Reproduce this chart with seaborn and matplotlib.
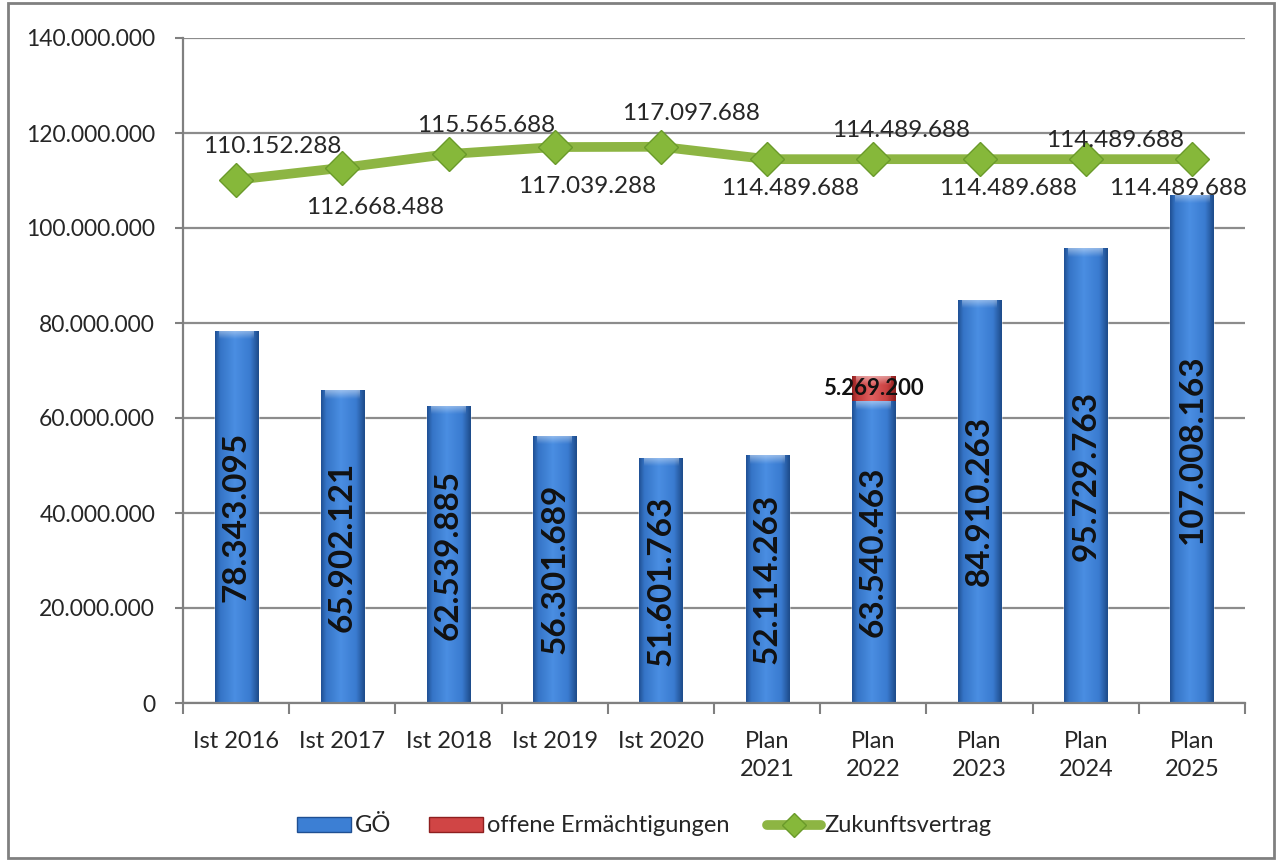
import numpy as np
import pandas as pd
import matplotlib
matplotlib.use("Agg")
import matplotlib.pyplot as plt
from matplotlib.colors import LinearSegmentedColormap
from matplotlib.patches import Patch, Rectangle
from matplotlib.lines import Line2D
import seaborn as sns

# --- data -------------------------------------------------------------
categories = ["Ist 2016", "Ist 2017", "Ist 2018", "Ist 2019", "Ist 2020",
              "Plan\n2021", "Plan\n2022", "Plan\n2023", "Plan\n2024", "Plan\n2025"]
goe = [78343095, 65902121, 62539885, 56301689, 51601763,
       52114263, 63540463, 84910263, 95729763, 107008163]
offene = [0, 0, 0, 0, 0, 0, 5269200, 0, 0, 0]
zukunft = [110152288, 112668488, 115565688, 117039288, 117097688,
           114489688, 114489688, 114489688, 114489688, 114489688]

# label offsets (pixels) for the line's value labels
line_label_offsets = [(36, 33), (33, -40), (38, 29), (32, -39), (30, 33),
                      (23, -29), (28, 29), (29, -29), (29, 19), (-14, -29)]

def fmt(v):
    return f"{v:,.0f}".replace(",", ".")

df = pd.DataFrame({"cat": categories, "goe": goe, "offene": offene,
                   "zukunft": zukunft})
df["total"] = df["goe"] + df["offene"]

sns.set_theme(style="white")
plt.rcParams["font.family"] = ["Lato", "DejaVu Sans"]
TXT = "#262626"

fig = plt.figure(figsize=(12.76, 8.61), dpi=100)
ax = fig.add_axes([183 / 1276, 1 - 703 / 861, (1245 - 183) / 1276, (703 - 38) / 861])

BAR_W = 0.405
sns.barplot(data=df, x="cat", y="total", ax=ax, color="#c0392b",
            width=BAR_W, saturation=1, errorbar=None, zorder=2)
sns.barplot(data=df, x="cat", y="goe", ax=ax, color="#3c7fd4",
            width=BAR_W, saturation=1, errorbar=None, zorder=2)

# cylinder-like horizontal shading on each bar
blue_cmap = LinearSegmentedColormap.from_list(
    "blu", [(0, "#1f4f92"), (0.12, "#3574c6"), (0.45, "#4a8ee2"),
            (0.8, "#3a7bd0"), (1, "#1d4a88")])
red_cmap = LinearSegmentedColormap.from_list(
    "red", [(0, "#8e1f1f"), (0.12, "#c23a3a"), (0.45, "#e06060"),
            (0.8, "#c84040"), (1, "#8a1c1c")])
cap_cmap = LinearSegmentedColormap.from_list("cap", ["#ffffff00", "#ffffff"])
grad = np.linspace(0, 1, 256).reshape(1, -1)
cap_grad = np.linspace(0, 1, 64).reshape(-1, 1)
n = len(categories)
CAP = 1.8e6
for i, p in enumerate(ax.patches):
    x0, y0, w, h = p.get_x(), p.get_y(), p.get_width(), p.get_height()
    if h <= 0:
        continue
    cmap = red_cmap if i < n else blue_cmap
    z = 2.1 if i < n else 2.3
    im = ax.imshow(grad, extent=[x0, x0 + w, y0, y0 + h], aspect="auto",
                   cmap=cmap, zorder=z, interpolation="bicubic")
    im.set_clip_path(p)
    # soft highlight along the top edge of each bar
    top = ax.imshow(cap_grad, origin="lower",
                    extent=[x0 + w * 0.1, x0 + w * 0.9, y0 + h - CAP, y0 + h],
                    aspect="auto", zorder=z + 0.05, alpha=0.45,
                    cmap=cap_cmap, interpolation="bicubic")
    top.set_clip_path(p)

# Zukunftsvertrag line
sns.pointplot(data=df, x="cat", y="zukunft", ax=ax, color="#8db543",
              errorbar=None, markers="D", linestyles="-", linewidth=7,
              markersize=17, markeredgecolor="#6a9a2a", markeredgewidth=1,
              markerfacecolor="#86b83a", zorder=4)

ax.set_xlim(-0.5, n - 0.5)
ax.set_ylim(0, 140e6)

# values inside the GÖ bars
for i, v in enumerate(goe):
    ax.text(i, v / 2, fmt(v), rotation=90, ha="center", va="center",
            fontsize=24, fontweight="bold", color="#111111", zorder=5)
# value of the open authorisations
for i, (g, o) in enumerate(zip(goe, offene)):
    if o > 0:
        ax.text(i, g + o / 2, fmt(o), ha="center", va="center",
                fontsize=16, fontweight="bold", color="#111111", zorder=5)
# values of the line
for i, (v, off) in enumerate(zip(zukunft, line_label_offsets)):
    ax.annotate(fmt(v), (i, v), xytext=off, textcoords="offset pixels",
                ha="center", va="center", fontsize=17.5, color=TXT, zorder=6)

# axes styling
ax.set_xlabel("")
ax.set_ylabel("")
yt = np.arange(0, 140e6 + 1, 20e6)
ax.set_yticks(yt)
ax.set_yticklabels([fmt(v) for v in yt])
ax.yaxis.grid(True, color="#8c8c8c", linewidth=1.6, zorder=0)
ax.set_axisbelow(True)
ax.set_xticks(range(n))
ax.set_xticklabels(categories, linespacing=1.45)
ax.set_xticks(np.arange(-0.5, n, 1.0), minor=True)
ax.tick_params(axis="x", which="major", length=0, pad=20, labelsize=17, labelcolor=TXT)
ax.tick_params(axis="x", which="minor", length=8, width=1.5, color="#808080", bottom=True)
ax.tick_params(axis="y", which="major", length=6, width=1.5, color="#808080",
               pad=14, labelsize=16.5, labelcolor=TXT, left=True)
for s in ["top", "right"]:
    ax.spines[s].set_visible(False)
for s in ["left", "bottom"]:
    ax.spines[s].set_color("#808080")
    ax.spines[s].set_linewidth(1.6)
ax.set_facecolor("white")

# legend
handles = [Patch(facecolor="#3c7fd4", edgecolor="#1f4f92", label="GÖ"),
           Patch(facecolor="#d04545", edgecolor="#8e1f1f", label="offene Ermächtigungen"),
           Line2D([0], [0], color="#8db543", linewidth=7, marker="D", markersize=12,
                  markerfacecolor="#86b83a", markeredgecolor="#6a9a2a",
                  label="Zukunftsvertrag")]
fig.legend(handles=handles, loc="center", bbox_to_anchor=(0.505, 1 - 826 / 861),
           ncol=3, frameon=False, fontsize=17, handlelength=2.3,
           handleheight=0.6, handletextpad=0.15, columnspacing=1.6,
           labelcolor=TXT)

# outer frame
fig.patches.append(Rectangle((8 / 1276, 3 / 861), 1266 / 1276, 855 / 861,
                             transform=fig.transFigure, fill=False,
                             edgecolor="#808080", linewidth=2))

fig.savefig("out.png", dpi=100)
